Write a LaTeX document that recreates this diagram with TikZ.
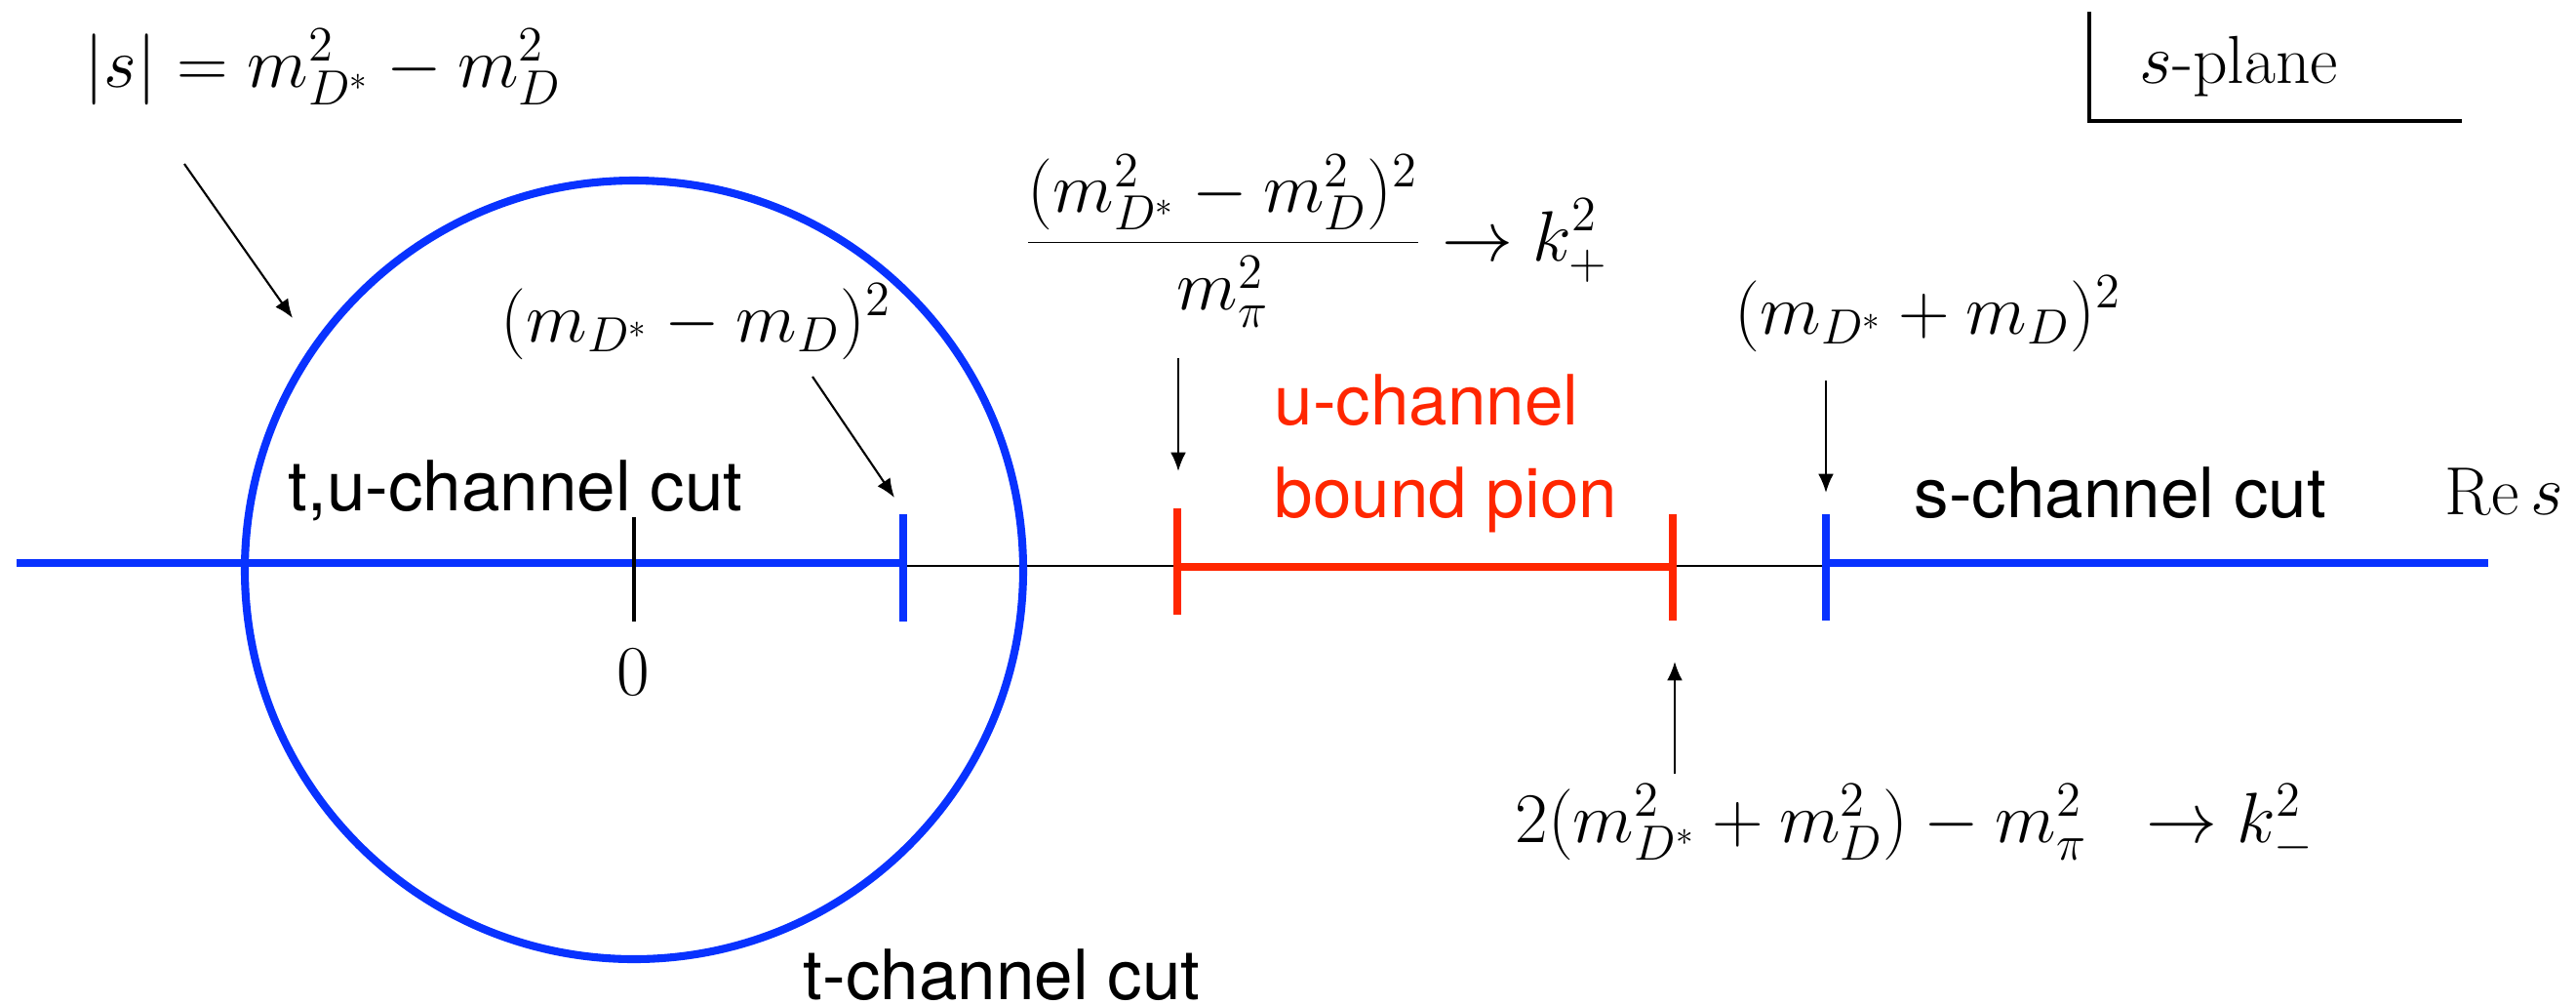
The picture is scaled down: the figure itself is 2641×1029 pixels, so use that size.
\documentclass[tikz,border=0pt]{standalone}
\usepackage{fontspec}
\setsansfont{TeX Gyre Heros}
\usetikzlibrary{arrows.meta}
\definecolor{cutblue}{RGB}{8,50,255}
\definecolor{cutred}{RGB}{255,38,0}
\begin{document}
\begin{tikzpicture}[x=0.01cm,y=-0.01cm,
  mathlbl/.style={inner sep=0pt, font=\fontsize{19.8}{24}\selectfont},
  sanslbl/.style={inner sep=0pt, font=\sffamily\fontsize{20.2}{24}\selectfont},
  pointer/.style={line width=0.6pt, -{Latex[length=5.5pt,width=4.5pt]}},
  bluecut/.style={cutblue, line width=2.3pt},
  redcut/.style={cutred, line width=2.3pt},
  axisline/.style={black, line width=0.7pt},
  frameline/.style={black, line width=1.4pt}]
\useasboundingbox (0,0) rectangle (2641,1029);

% coordinates
\coordinate (axL) at (250,580);
\coordinate (axR) at (2551,580);
\coordinate (bL) at (17,577);
\coordinate (bR) at (926,577);
\coordinate (b2L) at (1871,577);
\coordinate (b2R) at (2551,577);
\coordinate (rL) at (1207,581);
\coordinate (rR) at (1715,581);
\coordinate (c0) at (650,584);

% axis
\draw[axisline] (axL) -- (axR);
% blue cuts
\draw[bluecut] (bL) -- (bR);
\draw[bluecut] (b2L) -- (b2R);
\draw[bluecut] (c0) circle[radius=399];
% red cut
\draw[redcut] (rL) -- (rR);

% ticks
\coordinate (t0a) at (650,530); \coordinate (t0b) at (650,637);
\draw[black, line width=0.9pt] (t0a) -- (t0b);
\coordinate (t1a) at (926,527); \coordinate (t1b) at (926,637);
\draw[bluecut] (t1a) -- (t1b);
\coordinate (t2a) at (1207,521); \coordinate (t2b) at (1207,630);
\draw[redcut] (t2a) -- (t2b);
\coordinate (t3a) at (1715,527); \coordinate (t3b) at (1715,636);
\draw[redcut] (t3a) -- (t3b);
\coordinate (t4a) at (1872,527); \coordinate (t4b) at (1872,636);
\draw[bluecut] (t4a) -- (t4b);

% s-plane corner
\coordinate (sp1) at (2142,12);
\coordinate (sp2) at (2142,124);
\coordinate (sp3) at (2524,124);
\draw[frameline] (sp1) -- (sp2) -- (sp3);
\node[mathlbl, anchor=base west] (splane) at (2193,85) {$s$-plane};

% labels
\node[mathlbl, anchor=base west] (absS) at (86,89) {$|s| = m^2_{D^*} - m^2_D$};
\node[mathlbl, anchor=base west] (thr1) at (513,350) {$(m_{D^*} - m_D)^2$};
\node[mathlbl, anchor=base] (zero) at (649,712) {$0$};
\node[mathlbl, anchor=base west] (kplus) at (1049,267) {$\displaystyle\frac{(m^2_{D^*}-m^2_D)^2}{m^2_\pi}\to k^2_+$};
\node[mathlbl, anchor=base west] (thr2) at (1778,342) {$(m_{D^*} + m_D)^2$};
\node[mathlbl, anchor=base west] (kminus) at (1553,863) {$2(m^2_{D^*}+m^2_D)-m^2_\pi\;\;\to k^2_-$};
\node[mathlbl, anchor=base west] (res) at (2506,527) {$\mathrm{Re}\,s$};

\node[sanslbl, anchor=base west] (tucut) at (295,523) {t,u-channel cut};
\node[sanslbl, anchor=base west] (tcut) at (823,1024) {t-channel cut};
\node[sanslbl, anchor=base west] (scut) at (1962,530) {s-channel cut};
\node[sanslbl, anchor=base west, text=cutred] (uch) at (1306,435) {u-channel};
\node[sanslbl, anchor=base west, text=cutred] (bpion) at (1306,530) {bound pion};

% pointers
\coordinate (p1s) at (189,168); \coordinate (p1e) at (300,326);
\draw[pointer] (p1s) -- (p1e);
\coordinate (p2s) at (833,386); \coordinate (p2e) at (917,510);
\draw[pointer] (p2s) -- (p2e);
\coordinate (p3s) at (1208,367); \coordinate (p3e) at (1208,483);
\draw[pointer] (p3s) -- (p3e);
\coordinate (p4s) at (1872,390); \coordinate (p4e) at (1872,505);
\draw[pointer] (p4s) -- (p4e);
\coordinate (p5s) at (1717,793); \coordinate (p5e) at (1717,678);
\draw[pointer] (p5s) -- (p5e);
\end{tikzpicture}
\end{document}
